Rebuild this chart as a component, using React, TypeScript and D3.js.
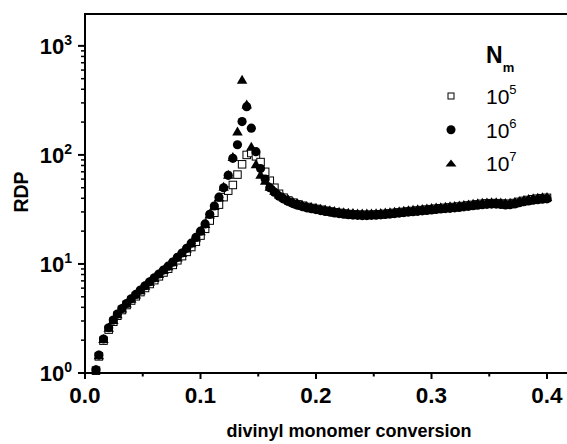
import * as d3 from "d3";

const conversion = [
  0.0095, 0.012, 0.016, 0.0205, 0.0245, 0.028, 0.032, 0.036, 0.04, 0.044,
  0.048, 0.052, 0.056, 0.06, 0.064, 0.068, 0.072, 0.076, 0.08, 0.084,
  0.088, 0.092, 0.096, 0.1, 0.104, 0.108, 0.112, 0.116, 0.12, 0.124,
  0.128, 0.132, 0.136, 0.14, 0.144, 0.148, 0.152, 0.156, 0.16, 0.164,
  0.168, 0.172, 0.176, 0.18, 0.184, 0.188, 0.192, 0.196, 0.2, 0.204,
  0.208, 0.212, 0.216, 0.22, 0.224, 0.228, 0.232, 0.236, 0.24, 0.244,
  0.248, 0.252, 0.256, 0.26, 0.264, 0.268, 0.272, 0.276, 0.28, 0.284,
  0.288, 0.292, 0.296, 0.3, 0.304, 0.308, 0.312, 0.316, 0.32, 0.324,
  0.328, 0.332, 0.336, 0.34, 0.344, 0.348, 0.352, 0.356, 0.36, 0.364,
  0.368, 0.372, 0.376, 0.38, 0.384, 0.388, 0.392, 0.396, 0.4,
];

// N_m = 10^5 (open squares)
const rdpE5 = [
  1.05, 1.42, 1.98, 2.5, 2.95, 3.35, 3.78, 4.2, 4.62, 5.05,
  5.52, 6.02, 6.55, 7.1, 7.7, 8.35, 9.05, 9.8, 10.8, 11.8,
  12.9, 14.3, 16.0, 18.2, 21.0, 25.0, 29.5, 35.0, 41.0, 47.0,
  53.0, 66.0, 82.0, 100.0, 104.0, 97.0, 86.0, 70.0, 58.0, 50.0,
  44.0, 40.5, 38.2, 36.5, 35.2, 34.2, 33.3, 32.6, 32.0, 31.4,
  30.8, 30.3, 29.8, 29.4, 29.0, 28.7, 28.5, 28.3, 28.2, 28.2,
  28.3, 28.4, 28.6, 28.8, 29.1, 29.4, 29.7, 30.0, 30.3, 30.6,
  30.9, 31.2, 31.5, 31.8, 32.1, 32.4, 32.7, 33.0, 33.3, 33.6,
  34.0, 34.4, 34.8, 35.2, 35.6, 35.9, 36.1, 36.1, 35.8, 35.5,
  35.6, 36.2, 37.1, 37.9, 38.6, 39.2, 39.7, 40.1, 40.4,
];

// N_m = 10^6 (filled circles)
const rdpE6 = [
  1.07, 1.46, 2.05, 2.6, 3.06, 3.47, 3.9, 4.34, 4.79, 5.25,
  5.76, 6.31, 6.87, 7.46, 8.09, 8.79, 9.55, 10.4, 11.5, 12.6,
  13.9, 15.5, 17.5, 20.0, 23.3, 28.5, 34.0, 41.0, 50.0, 65.0,
  93.0, 124.0, 202.0, 277.0, 176.0, 107.0, 75.0, 60.0, 50.0, 45.5,
  41.8, 39.4, 37.4, 35.8, 34.6, 33.6, 32.7, 32.1, 31.5, 30.9,
  30.3, 29.9, 29.4, 29.0, 28.6, 28.3, 28.1, 27.9, 27.8, 27.8,
  27.9, 28.0, 28.2, 28.4, 28.7, 29.0, 29.3, 29.6, 29.9, 30.1,
  30.4, 30.7, 31.0, 31.3, 31.6, 31.9, 32.2, 32.4, 32.7, 33.0,
  33.4, 33.8, 34.2, 34.6, 34.9, 35.2, 35.4, 35.4, 35.1, 34.8,
  34.9, 35.5, 36.4, 37.2, 37.8, 38.4, 38.9, 39.3, 39.6,
];

// N_m = 10^7 (filled triangles)
const rdpE7 = [
  1.07, 1.46, 2.05, 2.6, 3.06, 3.47, 3.9, 4.34, 4.79, 5.25,
  5.76, 6.31, 6.87, 7.46, 8.09, 8.79, 9.55, 10.4, 11.5, 12.6,
  13.9, 15.5, 17.5, 20.0, 23.3, 28.5, 34.0, 41.0, 51.0, 66.0,
  96.0, 164.0, 490.0, 290.0, 119.0, 82.0, 66.0, 58.0, 51.0, 47.0,
  43.5, 41.0, 39.0, 37.3, 36.0, 35.0, 34.1, 33.4, 32.8, 32.2,
  31.6, 31.1, 30.6, 30.2, 29.8, 29.5, 29.3, 29.1, 29.0, 29.0,
  29.1, 29.2, 29.4, 29.6, 29.9, 30.2, 30.5, 30.8, 31.1, 31.4,
  31.7, 32.0, 32.3, 32.6, 32.9, 33.2, 33.5, 33.8, 34.1, 34.4,
  34.8, 35.2, 35.6, 36.0, 36.4, 36.7, 36.9, 36.9, 36.6, 36.3,
  36.4, 37.0, 37.9, 38.7, 39.4, 40.0, 40.5, 40.9, 41.2,
];

const xTicks = [0, 0.1, 0.2, 0.3, 0.4];
const xMinorTicks = [0.05, 0.15, 0.25, 0.35];
const yExponents = [0, 1, 2, 3];
const legendExponents = ["5", "6", "7"];

const W = 567;
const H = 444;
const font = "'Liberation Sans', Arial, sans-serif";

const x = d3.scaleLinear().domain([0, 0.42]).range([85, 570.1]);
const y = d3.scaleLog().domain([1, 1960]).range([373, 14]);

function Square({ cx, cy, s = 7.5 }) {
  return (
    <rect x={cx - s / 2} y={cy - s / 2} width={s} height={s} fill="#fff" stroke="#000" strokeWidth={1} />
  );
}

function Dot({ cx, cy, r = 4.6 }) {
  return <circle cx={cx} cy={cy} r={r} fill="#000" />;
}

function Tri({ cx, cy, w = 10.5, h = 9 }) {
  const p = `M${cx},${cy - h * 0.55}L${cx + w / 2},${cy + h * 0.45}L${cx - w / 2},${cy + h * 0.45}Z`;
  return <path d={p} fill="#000" />;
}

export default function App() {
  const minorY = [];
  for (const e of [0, 1, 2]) {
    for (let m = 2; m <= 9; m++) minorY.push(m * Math.pow(10, e));
  }
  const [x0, x1] = x.range();
  const [yb, yt] = y.range();

  return (
    <svg width={W} height={H} style={{ position: "absolute", left: 0, top: 0, background: "#fff" }} fontFamily={font}>
      {/* series: squares under circles under triangles */}
      <g>
        {conversion.map((c, i) => (
          <Square key={"s" + i} cx={x(c)} cy={y(rdpE5[i])} />
        ))}
      </g>
      <g>
        {conversion.map((c, i) => (
          <Dot key={"c" + i} cx={x(c)} cy={y(rdpE6[i])} />
        ))}
      </g>
      <g>
        {conversion.map((c, i) => (
          <Tri key={"t" + i} cx={x(c)} cy={y(rdpE7[i])} />
        ))}
      </g>

      {/* frame */}
      <rect x={x0} y={yt} width={x1 - x0} height={yb - yt} fill="none" stroke="#000" strokeWidth={2} />

      {/* x axis ticks */}
      {xTicks.map((t) => (
        <g key={"xt" + t}>
          <line x1={x(t)} x2={x(t)} y1={yb} y2={yb + 6} stroke="#000" strokeWidth={2} />
          <text x={x(t)} y={403} textAnchor="middle" fontSize={22.5} fontWeight="bold">
            {t.toFixed(1)}
          </text>
        </g>
      ))}
      {xMinorTicks.map((t) => (
        <line key={"xm" + t} x1={x(t)} x2={x(t)} y1={yb} y2={yb + 3.5} stroke="#000" strokeWidth={2} />
      ))}

      {/* y axis ticks */}
      {yExponents.map((e) => {
        const v = Math.pow(10, e);
        return (
          <g key={"yt" + e}>
            <line x1={x0} x2={x0 - 7} y1={y(v)} y2={y(v)} stroke="#000" strokeWidth={2} />
            <text x={72} y={y(v) + 8} textAnchor="end" fontSize={22} fontWeight="bold">
              10
              <tspan fontSize={14} dy={-9}>
                {e}
              </tspan>
            </text>
          </g>
        );
      })}
      {minorY.map((v) => (
        <line key={"ym" + v} x1={x0} x2={x0 - 4} y1={y(v)} y2={y(v)} stroke="#000" strokeWidth={1.5} />
      ))}

      {/* axis titles */}
      <text transform="translate(28,192) rotate(-90)" textAnchor="middle" fontSize={19.5} fontWeight="bold">
        RDP
      </text>
      <text x={349} y={437} textAnchor="middle" fontSize={18} fontWeight="bold">
        divinyl monomer conversion
      </text>

      {/* legend */}
      <text x={486} y={63} fontSize={23} fontWeight="bold">
        N
        <tspan fontSize={13} dy={9}>
          m
        </tspan>
      </text>
      {legendExponents.map((e, i) => {
        const cy = 96 + i * 33.7;
        return (
          <g key={"lg" + e}>
            {i === 0 && <Square cx={451} cy={cy} s={6} />}
            {i === 1 && <Dot cx={451} cy={cy} r={4.5} />}
            {i === 2 && <Tri cx={451} cy={cy} w={11} h={7} />}
            <text x={486} y={cy + 8} fontSize={21}>
              10
              <tspan fontSize={13} dy={-10}>
                {e}
              </tspan>
            </text>
          </g>
        );
      })}
    </svg>
  );
}
